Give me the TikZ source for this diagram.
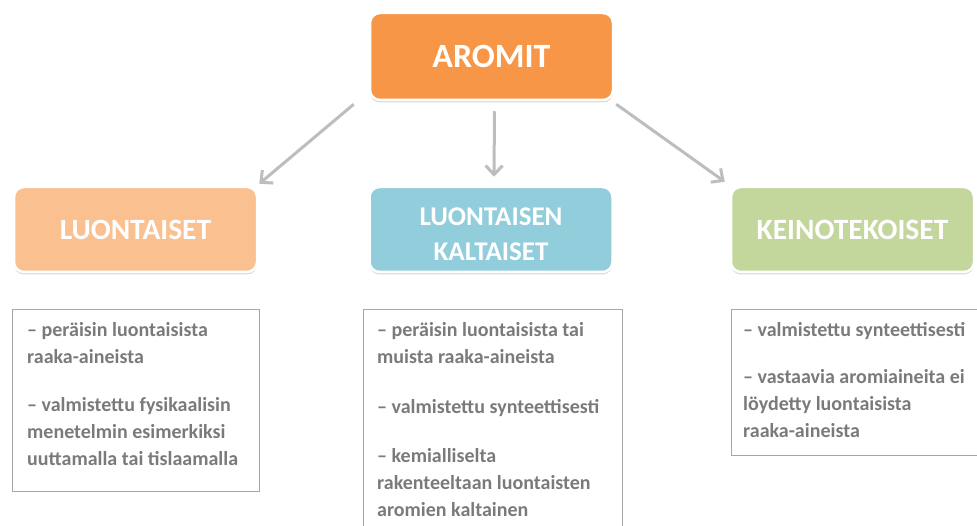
\documentclass[tikz,border=0pt]{standalone}
\usepackage{fontspec}
\setmainfont{Carlito}
\usepackage{tikz}
\usetikzlibrary{positioning,arrows.meta,shadows}
\definecolor{aromorange}{HTML}{F79646}
\definecolor{natpeach}{HTML}{FAC08F}
\definecolor{simblue}{HTML}{92CDDC}
\definecolor{synthgreen}{HTML}{C3D69B}
\definecolor{bodygray}{HTML}{7A7A7A}
\definecolor{framegray}{HTML}{A6A6A6}
\definecolor{arrowgray}{HTML}{BDBDBD}
\tikzset{
  headbox/.style ={rounded corners=10pt, draw=white, fill=#1, line width=2.5pt,
                   text=white, font=\fontsize{29.5}{35}\selectfont\bfseries, align=center,
                   minimum width=243pt, minimum height=85pt, inner sep=0pt,
                   drop shadow={opacity=0.3,shadow xshift=0pt,shadow yshift=-2.5pt}},
  descbox/.style ={draw=framegray, line width=1.1pt, anchor=north west, inner sep=0pt},
  desctext/.style={anchor=north west, align=left, inner sep=0pt, text=bodygray,
                   font=\fontsize{20}{27}\selectfont\bfseries},
  flowarr/.style ={draw=arrowgray, line width=3pt, -{Straight Barb[length=9pt,width=17pt]}},
}
\begin{document}
\begin{tikzpicture}[x=1pt, y=-1pt]
\useasboundingbox (0,0) rectangle (977,526);
% ---- top
\node[headbox=aromorange, minimum height=87pt, font=\fontsize{34}{40}\selectfont\bfseries] (aromit) at (491.5,56.5) {AROMIT};

% ---- three kinds
\node[headbox=natpeach] (nat) at (135.5,229.5) {LUONTAISET};
\node[headbox=simblue, right=110pt of nat, font=\fontsize{27}{35}\selectfont\bfseries] (sim) {\rule{0pt}{28pt}LUONTAISEN\\KALTAISET};
\node[headbox=synthgreen, right=116pt of sim] (syn) {KEINOTEKOISET};

% ---- arrows
\draw[flowarr] ([xshift=-15pt,yshift=-3pt]aromit.south west) -- ([xshift=1pt,yshift=2pt]nat.north east);
\draw[flowarr] ([xshift=3pt,yshift=-10pt]aromit.south) -- ([xshift=3pt,yshift=9pt]sim.north);
\draw[flowarr] ([xshift=2pt,yshift=-3pt]aromit.south east) -- ([xshift=-5pt,yshift=4pt]syn.north west);

% ---- descriptions
\node[descbox, minimum width=247pt, minimum height=182pt] (natbox) at (12,309) {};
\node[desctext] (nattext) at ([xshift=15pt,yshift=-13pt]natbox.north west)
  {– peräisin luontaisista\\raaka-aineista\\[21pt]– valmistettu fysikaalisin\\menetelmin esimerkiksi\\uuttamalla tai tislaamalla};
\node[descbox, minimum width=259pt, minimum height=240pt] (simbox) at (363,309) {};
\node[desctext] (simtext) at ([xshift=14pt,yshift=-13pt]simbox.north west)
  {– peräisin luontaisista tai\\muista raaka-aineista\\[23pt]– valmistettu synteettisesti\\[22pt]– kemialliselta\\rakenteeltaan luontaisten\\aromien kaltainen};
\node[descbox, minimum width=260pt, minimum height=146pt] (synbox) at (731,309) {};
\node[desctext] (syntext) at ([xshift=12pt,yshift=-13pt]synbox.north west)
  {– valmistettu synteettisesti\\[20pt]– vastaavia aromiaineita ei\\löydetty luontaisista\\raaka-aineista};
\end{tikzpicture}
\end{document}
